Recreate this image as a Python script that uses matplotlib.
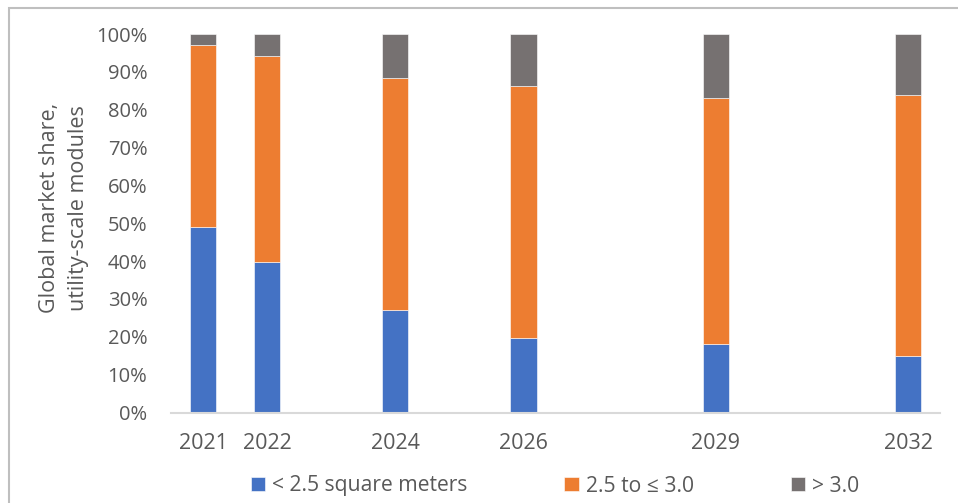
import matplotlib
matplotlib.use("Agg")
import matplotlib.pyplot as plt
from matplotlib.patches import Rectangle
from matplotlib.ticker import FuncFormatter

plt.rcParams['font.family'] = ['Open Sans', 'DejaVu Sans']

# Module size market share (%) by year
years = [2021, 2022, 2024, 2026, 2029, 2032]
small = [49.0, 39.7, 27.1, 19.7, 18.1, 14.9]       # < 2.5 m²
medium = [48.1, 54.5, 61.4, 66.5, 65.0, 68.9]      # 2.5 to ≤ 3.0
large = [2.9, 5.8, 11.5, 13.8, 16.9, 16.2]         # > 3.0

series_labels = ["< 2.5 square meters", "2.5 to \u2264 3.0", "> 3.0"]
colors = ["#4472C4", "#ED7D31", "#767171"]
text_color = "#595959"

fig = plt.figure(figsize=(9.58, 5.03), dpi=100)
ax = fig.add_axes([171 / 958, 1 - 412.5 / 503, (940 - 171) / 958, (412.5 - 34) / 503])

width = 0.41
bottoms = [0.0] * len(years)
for vals, lab, col in zip([small, medium, large], series_labels, colors):
    ax.bar(years, vals, width=width, bottom=bottoms, color=col, label=lab,
           edgecolor="#ffffff", linewidth=0.4, zorder=2)
    bottoms = [b + v for b, v in zip(bottoms, vals)]

ax.set_xlim(2020.5, 2032.5)
ax.set_ylim(0, 100)
ax.set_xticks(years)
ax.set_xticklabels([str(y) for y in years])
ax.set_yticks(range(0, 101, 10))
ax.yaxis.set_major_formatter(FuncFormatter(lambda v, p: f"{int(v)}%"))

for s in ["top", "right", "left"]:
    ax.spines[s].set_visible(False)
ax.spines["bottom"].set_color("#D9D9D9")
ax.spines["bottom"].set_linewidth(1.5)
ax.spines["bottom"].set_zorder(3)

ax.tick_params(axis="both", length=0, labelsize=14.5, labelcolor=text_color)
ax.tick_params(axis="x", labelsize=15.5, pad=15)
ax.tick_params(axis="y", pad=17)

fig.text(64 / 958, 1 - 208 / 503, "Global market share,\nutility-scale modules",
         rotation=90, ha="center", va="center", multialignment="center",
         fontsize=15.5, color=text_color, linespacing=1.5)

fig.legend(loc="center", bbox_to_anchor=(555 / 958, 1 - 486 / 503), ncol=3,
           frameon=False, fontsize=15.2, labelcolor=text_color,
           handlelength=0.67, handleheight=0.67, handletextpad=0.33,
           columnspacing=4.6)

# Outer chart border
fig.patches.append(Rectangle((9 / 958, -0.05), 1.1, 1 - 7.5 / 503 + 0.05,
                             transform=fig.transFigure, fill=False,
                             edgecolor="#BFBFBF", linewidth=1.5))

fig.savefig("out.png", dpi=100, facecolor="white")
